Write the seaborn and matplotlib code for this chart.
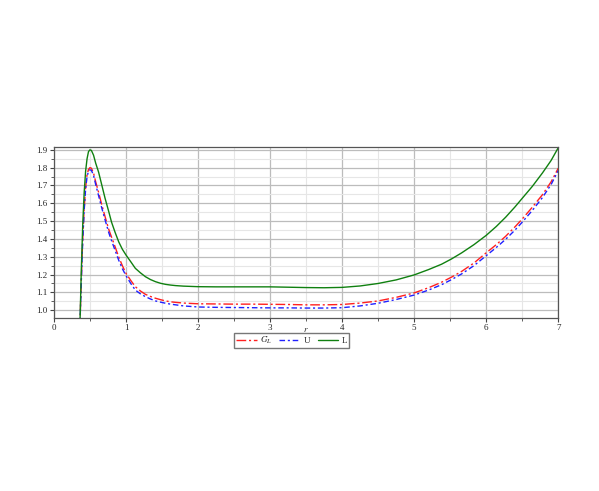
import pandas as pd
import matplotlib.pyplot as plt
import seaborn as sns
from matplotlib.ticker import MultipleLocator

# Values
r = [0.36, 0.38, 0.40, 0.42, 0.44, 0.46, 0.48, 0.50, 0.52, 0.55,
     0.58, 0.62, 0.66, 0.71, 0.76, 0.80, 0.85, 0.90, 0.95, 1.0,
     1.07, 1.13, 1.2, 1.27, 1.34, 1.41, 1.48, 1.55, 1.62, 1.69,
     1.8, 2.0, 2.25, 2.5, 2.75, 3.0, 3.25, 3.5, 3.75, 4.0,
     4.25, 4.5, 4.75, 5.0, 5.2, 5.38, 5.52, 5.66, 5.83, 6.0,
     6.14, 6.27, 6.4, 6.5, 6.64, 6.78, 6.9, 7.0]
G_L = [0.90, 1.17, 1.40, 1.57, 1.69, 1.76, 1.79, 1.80, 1.797, 1.77,
       1.72, 1.662, 1.598, 1.525, 1.455, 1.41, 1.355, 1.298, 1.25, 1.207,
       1.165, 1.132, 1.108, 1.089, 1.077, 1.067, 1.059, 1.052, 1.047, 1.044,
       1.04, 1.036, 1.035, 1.034, 1.034, 1.033, 1.032, 1.03, 1.03, 1.032,
       1.04, 1.052, 1.072, 1.097, 1.126, 1.157, 1.186, 1.218, 1.265, 1.322,
       1.368, 1.415, 1.468, 1.512, 1.578, 1.648, 1.72, 1.797]
U = [0.90, 1.16, 1.39, 1.56, 1.68, 1.75, 1.78, 1.788, 1.785, 1.757,
     1.705, 1.643, 1.58, 1.507, 1.437, 1.39, 1.335, 1.28, 1.233, 1.194,
     1.148, 1.113, 1.092, 1.076, 1.063, 1.052, 1.045, 1.039, 1.034, 1.03,
     1.024, 1.018, 1.016, 1.015, 1.014, 1.013, 1.013, 1.012, 1.012, 1.014,
     1.024, 1.039, 1.06, 1.085, 1.113, 1.143, 1.172, 1.204, 1.25, 1.306,
     1.352, 1.398, 1.45, 1.494, 1.56, 1.632, 1.705, 1.784]
L = [0.90, 1.22, 1.48, 1.66, 1.78, 1.85, 1.89, 1.90, 1.897, 1.87,
     1.825, 1.775, 1.71, 1.628, 1.555, 1.494, 1.436, 1.383, 1.342, 1.31,
     1.27, 1.235, 1.21, 1.188, 1.172, 1.16, 1.151, 1.145, 1.141, 1.138,
     1.135, 1.132, 1.131, 1.131, 1.131, 1.131, 1.129, 1.127, 1.126, 1.128,
     1.136, 1.15, 1.17, 1.198, 1.228, 1.258, 1.288, 1.322, 1.368, 1.42,
     1.47, 1.522, 1.58, 1.628, 1.695, 1.77, 1.84, 1.912]

df = pd.DataFrame({"r": r, "G_L": G_L, "U": U, "L": L})

sns.set_style("white")
plt.rcParams["font.family"] = ["Liberation Serif", "DejaVu Serif"]
plt.rcParams["mathtext.fontset"] = "stix"

fig = plt.figure(figsize=(5.99, 4.91), dpi=100)
ax = fig.add_axes([0.090, 0.353, 0.842, 0.348])

sns.lineplot(x="r", y="G_L", data=df, ax=ax, color="#ff2020", lw=1,
             linestyle=(0, (7, 2, 1.5, 2)), label="$G_L$", legend=False)
sns.lineplot(x="r", y="U", data=df, ax=ax, color="#2020ff", lw=1,
             linestyle=(0, (4, 2, 1.5, 2)), label="U", legend=False)
sns.lineplot(x="r", y="L", data=df, ax=ax, color="#108010", lw=1,
             linestyle="-", label="L", legend=False)

ax.set_xlim(0, 7)
ax.set_ylim(0.958, 1.917)
ax.xaxis.set_major_locator(MultipleLocator(1))
ax.xaxis.set_minor_locator(MultipleLocator(0.5))
ax.yaxis.set_major_locator(MultipleLocator(0.1))
ax.yaxis.set_minor_locator(MultipleLocator(0.05))
ax.grid(which="major", color="#bcbcbc", lw=0.9)
ax.grid(which="minor", color="#e6e6e6", lw=0.8)
ax.set_axisbelow(True)
ax.tick_params(which="both", direction="out", labelsize=6.5, color="#444444",
               bottom=True, left=True, pad=1.5)
ax.tick_params(which="major", length=3)
ax.tick_params(which="minor", length=2)
for s in ax.spines.values():
    s.set_color("#555555")
    s.set_linewidth(0.9)

ax.set_xlabel("")
ax.set_ylabel("")
fig.text(0.511, 0.328, "$r$", fontsize=6.5, ha="center", va="center")

handles, labels = ax.get_legend_handles_labels()
fig.legend(handles, labels, loc="upper center", bbox_to_anchor=(0.487, 0.322),
           ncol=3, fontsize=6.5, frameon=True, fancybox=False,
           edgecolor="#555555", handlelength=2.3, columnspacing=0.8,
           borderpad=0.2, handletextpad=0.4, borderaxespad=0)

fig.savefig("out.png", dpi=100)
